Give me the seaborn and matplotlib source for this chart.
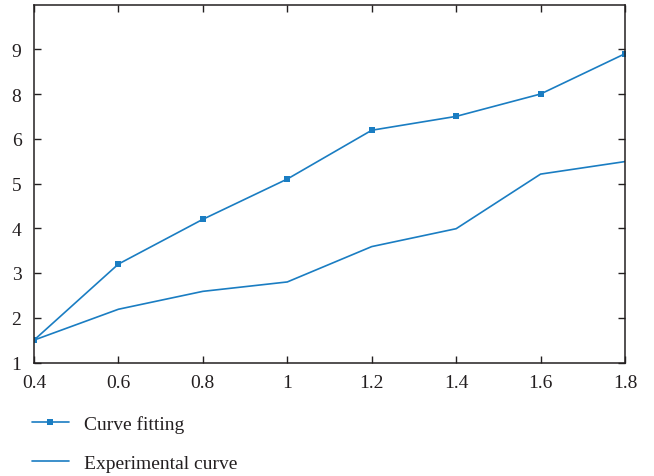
import pandas as pd
import matplotlib
matplotlib.use('Agg')
import matplotlib.pyplot as plt
import seaborn as sns

# Valores (posição no eixo y linear)
x_vals = [0.4, 0.6, 0.8, 1.0, 1.2, 1.4, 1.6, 1.8]
curve_fitting = [1.5, 3.2, 4.2, 5.1, 6.19, 6.5, 7.0, 7.9]
experimental = [1.5, 2.19, 2.59, 2.8, 3.59, 3.99, 5.21, 5.49]

x_ticks = [0.4, 0.6, 0.8, 1.0, 1.2, 1.4, 1.6, 1.8]
x_labels = ['0.4', '0.6', '0.8', '1', '1.2', '1.4', '1.6', '1.8']
y_ticks = [1, 2, 3, 4, 5, 6, 7, 8]
y_labels = ['1', '2', '3', '4', '5', '6', '8', '9']

sns.set_style('ticks')
plt.rcParams['font.family'] = ['Liberation Serif', 'DejaVu Serif']
plt.rcParams['text.color'] = '#231f20'

cor = '#1a7dc2'
df = pd.DataFrame({'x': x_vals, 'Curve fitting': curve_fitting, 'Experimental curve': experimental})

fig = plt.figure(figsize=(6.54, 4.77), dpi=100)
ax = fig.add_axes([34 / 654, 1 - 363.5 / 477, (625 - 34) / 654, (363.5 - 5.5) / 477])

sns.lineplot(data=df, x='x', y='Curve fitting', ax=ax, color=cor, lw=1.2,
             marker='s', markersize=4.5, markeredgewidth=0, label='Curve fitting')
sns.lineplot(data=df, x='x', y='Experimental curve', ax=ax, color=cor, lw=1.2,
             label='Experimental curve')

ax.set_xlim(0.4, 1.8)
ax.set_ylim(1, 9)
ax.set_xticks(x_ticks)
ax.set_xticklabels(x_labels)
ax.set_yticks(y_ticks)
ax.set_yticklabels(y_labels)
ax.set_xlabel('')
ax.set_ylabel('')
ax.tick_params(direction='in', top=True, right=True, length=5, width=1,
               labelsize=14, colors='#231f20')
ax.tick_params(axis='x', pad=8)
ax.tick_params(axis='y', pad=9)
for s in ax.spines.values():
    s.set_linewidth(1.1)
    s.set_color('#231f20')

handles, labels = ax.get_legend_handles_labels()
ax.get_legend().remove()
fig.legend(handles, labels, loc='upper left', bbox_to_anchor=(32 / 654, 1 - 416 / 477),
           frameon=False, fontsize=14, handlelength=1.9, handletextpad=0.75,
           labelspacing=1.1, borderpad=0, borderaxespad=0)

plt.savefig('out.png', dpi=100)
